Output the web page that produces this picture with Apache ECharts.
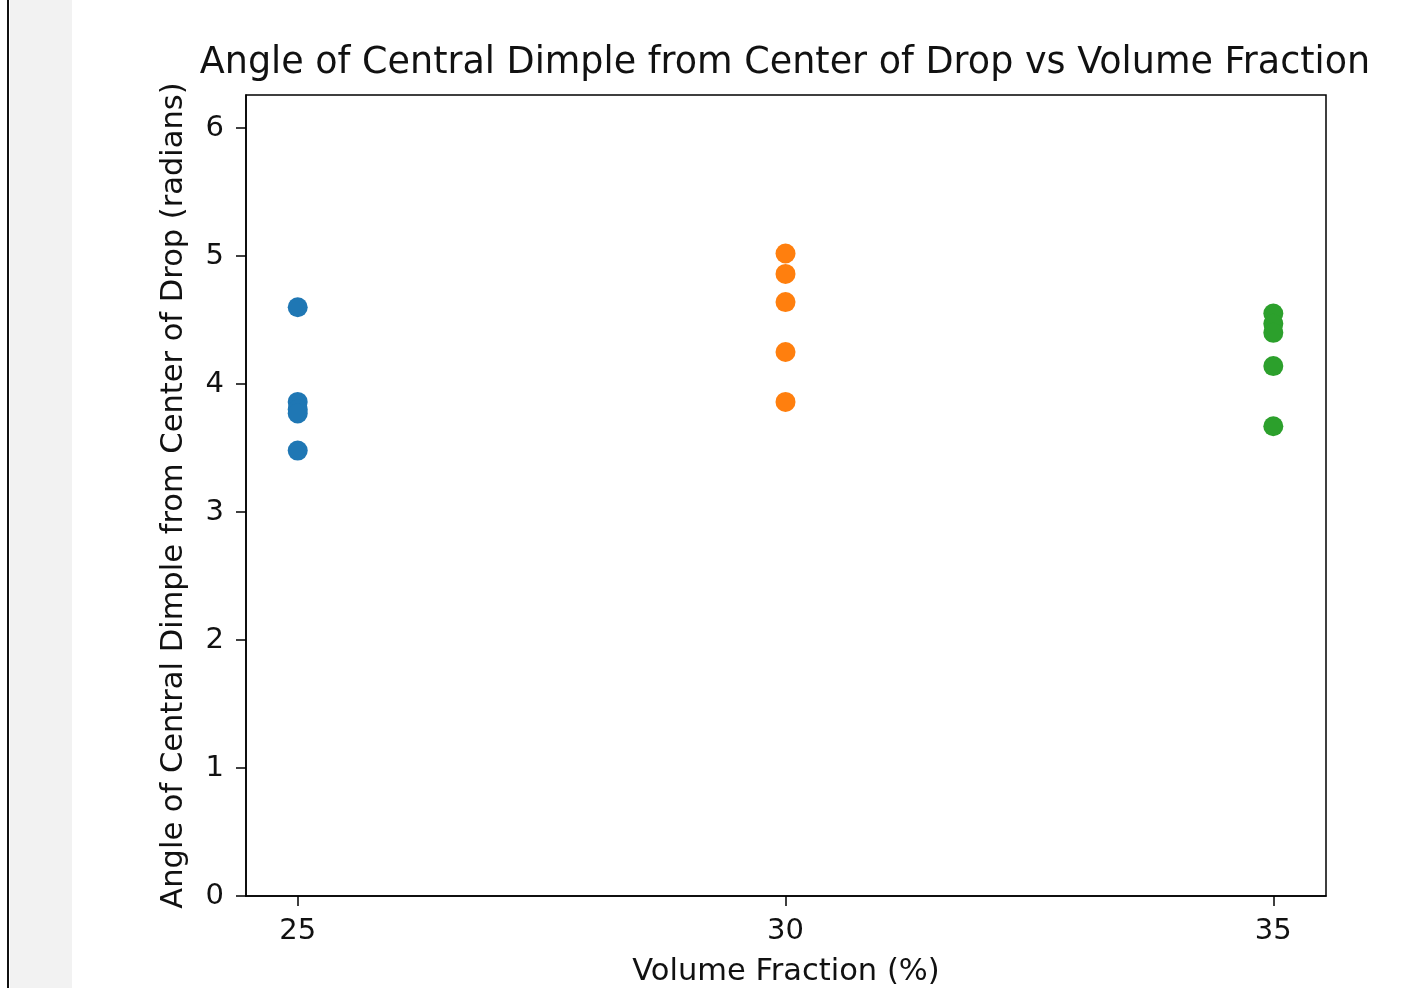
<!DOCTYPE html>
<html>
<head>
<meta charset="utf-8">
<script src="https://cdn.jsdelivr.net/npm/echarts@6/dist/echarts.min.js"></script>
<style>
html,body{margin:0;padding:0;background:#fff;}
#c{width:1420px;height:988px;}
</style>
</head>
<body>
<div id="c"></div>
<script>
const titleText = 'Angle of Central Dimple from Center of Drop vs Volume Fraction';
const xName = 'Volume Fraction (%)';
const yName = 'Angle of Central Dimple from Center of Drop (radians)';
const xTicks = [25, 30, 35];
const yTicks = [0, 1, 2, 3, 4, 5, 6];
const fraction25 = [25, 25, 25, 25, 25];
const angles25 = [4.60, 3.86, 3.80, 3.77, 3.48];
const fraction30 = [30, 30, 30, 30, 30];
const angles30 = [5.02, 4.86, 4.64, 4.25, 3.86];
const fraction35 = [35, 35, 35, 35, 35];
const angles35 = [4.55, 4.47, 4.40, 4.14, 3.67];
const colors = ['#1f77b4', '#ff7f0e', '#2ca02c'];

function pairs(xs, ys){ return xs.map((x,i)=>[x, ys[i]]); }

const chart = echarts.init(document.getElementById('c'), null, {renderer:'canvas'});
const font = 'DejaVu Sans';
chart.setOption({
  animation: false,
  backgroundColor: '#fff',
  textStyle: {fontFamily: font},
  grid: {left: 246, right: 94, top: 95, bottom: 92, outerBoundsMode: 'none', containLabel: false, show: true, borderColor: '#000', borderWidth: 1.5, backgroundColor: 'transparent'},
  graphic: [
    {type:'rect', shape:{x:10, y:0, width:62, height:988}, style:{fill:'#f2f2f2'}, silent:true, z:-10},
    {type:'rect', shape:{x:7, y:0, width:2, height:988}, style:{fill:'#111'}, silent:true, z:-10},
    {type:'text', x:785, y:64, style:{text:titleText, font:'36.5px "DejaVu Sans"', fill:'#111', align:'center', verticalAlign:'middle'}}
  ],
  xAxis: {
    type:'value', min:24.47, max:35.54,
    name: xName, nameLocation:'middle', nameGap:61,
    nameTextStyle:{fontSize:30.5, color:'#111', fontFamily:font},
    axisLine:{show:true, lineStyle:{color:'#000', width:1.5}},
    axisTick:{show:true, length:10, inside:false, lineStyle:{color:'#000', width:1.5}, customValues: xTicks},
    axisLabel:{fontSize:29, color:'#111', margin:21, fontFamily:font, customValues: xTicks},
    splitLine:{show:false}
  },
  yAxis: {
    type:'value', min:0, max:6.258,
    name: yName, nameLocation:'middle', nameGap:56,
    nameTextStyle:{fontSize:30.5, color:'#111', fontFamily:font},
    axisLine:{show:true, lineStyle:{color:'#000', width:1.5}},
    axisTick:{show:true, length:10, inside:false, lineStyle:{color:'#000', width:1.5}, customValues: yTicks},
    axisLabel:{fontSize:29, color:'#111', margin:22, fontFamily:font, customValues: yTicks},
    splitLine:{show:false}
  },
  series: [
    {type:'scatter', data:pairs(fraction25, angles25), symbolSize:20, itemStyle:{color:colors[0], opacity:1}},
    {type:'scatter', data:pairs(fraction30, angles30), symbolSize:20, itemStyle:{color:colors[1], opacity:1}},
    {type:'scatter', data:pairs(fraction35, angles35), symbolSize:20, itemStyle:{color:colors[2], opacity:1}}
  ]
});
</script>
</body>
</html>
